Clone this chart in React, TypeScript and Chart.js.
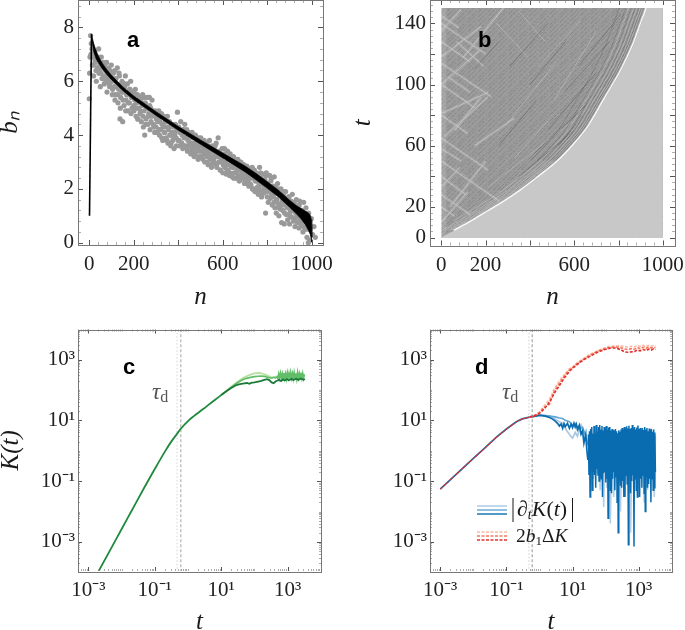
import React, { useEffect, useRef } from "react";
import { Chart, registerables } from "chart.js";

Chart.register(...registerables);

const SERIF = "'Liberation Serif', serif";
const SANS = "'Liberation Sans', sans-serif";

// ---------- panel a ----------
const grayStep = 3;
const grayB0 = [5.35,6.9,7.7,7.4,7.2,7.0,6.6,6.9,7.1,6.7,6.4,6.8,6.5,6.9,7.2,6.4,6.6,6.3,6.9,6.1,6.5,6.7,6.2,6.6,6.4,6.0,6.7,6.3,6.1,6.5,5.9,6.4,6.2];
const grayB1 = [6.6,6.0,5.7,6.3,5.8,6.4,5.5,6.1,5.9,6.5,5.2,5.7,6.2,4.6,5.4,5.9,6.0,4.5,5.6,5.1,5.8,6.2,5.3,5.5,5.9,4.9,5.6,5.2,5.7,6.0,5.4,5.0,5.5];
const grayB2 = [5.6,4.9,5.3,5.7,4.7,5.2,5.5,4.6,5.0,5.4,4.8,5.3,4.5,5.1,5.5,4.3,4.9,4.0,5.2,4.6,5.0,5.4,4.4,4.8,5.4,4.2,5.0,4.7,5.3,4.9,4.4,4.8,4.1];
const grayB3 = [4.9,4.3,4.7,4.1,4.6,4.9,4.0,4.5,4.2,4.8,4.4,3.8,4.3,4.7,4.1,4.5,3.9,4.3,4.7,3.7,4.2,4.5,4.0,3.6,4.4,4.1,3.8,4.3,3.5,4.0,4.4,3.9,4.2];
const grayB4 = [4.85,3.8,4.3,3.6,4.1,4.5,3.7,4.0,3.5,4.2,3.9,4.4,3.6,3.9,4.2,3.4,3.8,4.1,3.6,4.0,3.3,3.7,4.1,3.5,3.9,3.2,3.7,4.0,3.4,3.8,3.6,3.1,3.9];
const grayB5 = [3.4,3.7,3.9,3.2,3.6,3.1,3.5,3.8,3.0,3.4,3.7,3.2,3.5,2.9,3.3,3.8,3.1,3.4,2.8,3.6,3.2,3.0,3.5,2.95,3.3,3.7,2.8,3.2,3.9,3.0,3.4,2.7,3.3];
const grayB6 = [3.1,3.5,2.6,3.0,3.3,2.8,3.2,2.55,2.9,3.4,2.7,3.1,2.5,3.3,2.85,3.0,2.45,2.8,3.2,2.6,2.9,3.1,2.4,2.75,3.0,2.5,2.9,2.3,2.7,3.0,2.45,2.8,2.6];
const grayB7 = [2.9,2.35,2.7,2.2,2.5,2.85,2.3,2.6,2.1,2.75,2.4,2.15,2.55,2.8,2.0,2.4,2.7,1.9,2.3,2.6,2.05,2.5,1.8,2.2,2.8,1.95,2.4,1.7,2.2,2.55,1.85,2.1,2.35];
const grayB8 = [1.1,2.6,1.9,2.2,1.5,2.0,2.5,1.65,2.3,1.8,1.4,2.1,1.7,2.45,1.3,1.9,1.1,1.6,2.2,1.45,1.0,1.8,1.25,2.0,0.75,1.55,1.2,1.75,0.7,1.4,1.9,1.05,1.6];
const grayB9 = [0.85,1.3,1.7,0.7,1.15,1.55,0.95,1.8,1.25,0.8,1.45,0.6,1.1,1.6,1.0,0.75,1.35,0.55,1.55,0.9,1.2,0.65,1.05,0.4,1.5,0.8,1.1,0.5,0.9,0.2,0.7,0.0,0.5,0.1];
const grayB = [...grayB0,...grayB1,...grayB2,...grayB3,...grayB4,...grayB5,...grayB6,...grayB7,...grayB8,...grayB9];
const grayExtraStep = 6;
const grayExtraB = [
  6.3,7.0,6.6,6.2,6.8,6.0,6.5,6.3,5.8,6.6,6.1,5.9,6.4,5.6,6.2,5.8,6.0,
  5.5,6.1,5.3,5.8,5.5,6.3,5.0,5.6,5.3,5.9,4.9,5.5,5.2,5.7,4.8,5.4,5.1,
  5.5,5.0,4.6,5.3,4.9,5.2,4.7,5.4,4.4,5.0,4.7,5.1,4.5,4.9,4.3,4.7,4.6,
  4.5,4.2,4.7,3.9,4.4,4.1,4.6,3.8,4.3,4.0,3.7,4.4,3.9,4.1,3.6,4.2,3.8,
  4.1,3.7,4.2,3.6,3.9,3.5,4.0,3.7,3.4,3.9,3.6,3.3,3.8,3.5,3.2,3.6,3.4,
  3.7,3.3,3.5,3.0,3.6,3.2,2.9,3.4,3.1,3.6,2.9,3.3,3.0,2.7,3.2,2.9,3.5,
  3.0,2.7,3.2,2.6,3.0,2.8,2.4,2.9,2.6,3.1,2.3,2.7,2.5,2.9,2.2,2.6,2.4,
  2.6,2.2,2.5,2.0,2.7,2.3,1.9,2.4,2.1,2.6,1.8,2.2,2.0,2.5,1.7,2.1,1.9,
  2.4,1.8,1.5,2.1,1.6,2.0,1.3,1.8,1.4,1.9,1.1,1.6,1.3,1.7,1.0,1.4,1.2,
  1.5,0.9,1.3,1.0,1.4,0.8,1.2,0.6,1.0,1.3,0.7,1.1,0.5,0.9,0.3,0.6,0.2,
];

const bandN = [10,14,20,30,40,60,80,100,150,200,300,400,500,600,700,750,800,850,900,930,950,970,985,993,998,1000];
const bandUp = [7.75,7.6,7.4,7.15,6.95,6.65,6.42,6.22,5.8,5.45,4.87,4.32,3.82,3.33,2.85,2.57,2.27,1.95,1.58,1.38,1.28,1.18,1.1,1.02,0.85,0.2];
const bandLo = [7.65,7.4,7.1,6.85,6.7,6.45,6.24,6.06,5.66,5.31,4.73,4.18,3.66,3.15,2.63,2.33,2.02,1.7,1.32,1.08,0.9,0.68,0.45,0.3,0.12,0.02];
const riseN = [1,10];
const riseB = [1,7.75];

// ---------- panel b ----------
const edgeN = [0,60,136,210,286,360,437,527,600,662,739,815,867,905,928,1000];
const edgeT = [0,4.7,10.8,17.2,23.8,31,39.5,50,61,72,91,110,126,141,150,150];
const fieldN = [0,1000];
const fieldT = [150,150];
const glowN = [0,22];
const glowT = [150,150];
const riseIntercepts = [-139,-136,-131,-129,-125,-120,-118,-113,-110,-107,-102,-99,-97,-92,-88,-86,-81,-78,-74,-71,-68,-64,-60,-58,-54,-50,-47,-44,-41,-37,-34,-31,-28,-24,-22,-18,-15,-12,-8,-6,-3,0,3,5,9,12,14,18,21,24,26,30,33,35,39,42,45,48,50,54,57,60,63,66,68,72,75,78,80,84,87,90,93,95,99,102,105,107,111,114,117,120,123,125,129,132,135,138,141,144,147];
const fallIntercepts = [4,8,13,16,20,25,28,33,36,41,44,49,52,56,61,64,68,73,76,81,84,88,93,96,100,105,108,113,116,120,125,128,133,136,140,145,148,152,156,161,164,168,173,176,181,184,188,192,196,201,204,208,213,216,220,225,228,233,236,240,245,248,252,257,260,265,268,272];
const lightRaysLeft = [
  [0,114,226,92],[0,65,212,44],[0,50,260,24],[0,28,130,15],[0,100,150,85],[0,80,120,68],[0,128,130,115],[0,140,200,120],[0,145,80,137],[0,40,110,28],
  [0,81,212,95],[15,66,210,92],[0,118,180,138],[0,135,90,149],[0,100,170,122],[40,20,200,50],[0,10,120,30],[100,118,280,150],
  [150,60,330,78],[0,58,90,50],[30,105,130,95],[0,20,60,14],[0,33,85,46],[60,70,180,92],[70,128,190,112],
];
const lightRaysRight = [
  [212,33,590,76],[300,75,520,115],[510,90,700,135],[250,140,390,118],[350,148,470,128],[440,112,630,142],[330,52,480,76],
];
const darkRays = [
  [350,40,600,70],[420,55,650,86],[480,70,700,108],[560,96,760,128],[620,112,810,146],[260,60,430,90],[310,112,480,140],[530,60,640,80],[150,110,260,128],[400,100,560,128],
];
const darkArcOffsets = [14,24,36,52,70,95,125];
const lightArcOffsets = [10,20,30,45,60,82];

// ---------- panel c ----------
const kSharedT = [0.001,0.002,0.005,0.01,0.02,0.05,0.1,0.2,0.3,0.45,0.6,1,1.5,2,3,3.8,5,7.6,10];
const kSharedK = [2.6e-5,1.04e-4,6.5e-4,2.6e-3,0.0104,0.065,0.25,0.92,1.85,3.4,5.2,9.5,13.8,17.5,24.5,30,38,54,68];
const kDarkT = [10,15,20,24,30,40,50,60,70,80,100,130,160,200,240,280,330,380,430,500,560,630,720,820,950,1100,1300,1500,1800,2100,2500,3000,3300];
const kDarkK = [68,94,116,130,148,158,165,170,160,172,178,190,200,215,228,212,178,168,190,205,215,195,222,205,228,210,232,212,235,215,238,218,230];
const kMidT = [10,15,20,30,40,50,70,100,130,155,200,250,300,340,380,430,480,510,540,575,610,650,690,730,770,820,870,920,980,1040,1100,1170,1240,1320,1400,1480,1570,1670,1770,1880,1990,2110,2240,2380,2520,2680,2840,3010,3200];
const kMidK = [68,96,122,170,205,230,255,275,285,290,280,262,248,250,262,245,270,240,340,240,360,250,345,235,365,245,340,230,370,250,350,235,375,245,345,235,370,240,355,230,380,250,345,235,375,245,350,240,330];
const kLightT = [10,15,20,30,40,50,70,100,130,155,200,260,320,400,500,620,760,930,1130,1380,1700,2080,2550,3200];
const kLightK = [68,98,128,180,225,260,310,350,365,360,330,290,262,265,285,275,300,280,310,285,315,290,305,295];
const tauC = [0.61,0.47];

// ---------- panel d ----------
const dSharedT = [0.001,0.002,0.005,0.01,0.02,0.05,0.1,0.2,0.3,0.5];
const dSharedV = [0.055,0.11,0.28,0.56,1.1,2.8,5.2,9,11.2,12.8];
const blueDarkT = [0.5,0.7,1,1.5,2,2.5,3,3.5,4,4.5,5,5.5,6,7,8,9,10,11,12,13,14,16,18,20,22,25,27,29];
const blueDarkV = [12.8,13.6,14.5,13.8,12.5,11,9.5,8,6.5,7.6,5.5,7.8,6.2,8,5.5,7.5,5.8,8,6,7.5,5,7,3.5,4.5,1.8,3.5,1,0.5];
const blueMidT = [0.5,1,2,3,4,5,6,8,10,12,15,20,25,29];
const blueMidV = [13,15,14,13,12,11.5,10,9,7,8,5,6,3,1.5];
const blueLightT = [0.5,1,2,3,4,5,6,7,8,9,10,12,14,16,18,20,25,29];
const blueLightV = [13,15,14,11,9,8,5.5,4.2,3.5,2.9,2.6,4,3,5,7,5,3,1.8];
const bandT = [30,31.2,32.4,33.7,35.1,36.5,38,39.5,41,42.7,44.4,46.2,48,50,52,54,56,58.5,61,63,66,68,71,74,77,80,83,87,90,94,97,101,105,109,114,118,123,128,133,138,144,150,156,162,168,175,182,189,197,205,213,221,230,239,249,259,269,280,291,303,315,328,341,354,368,383,398,414,431,448,466,485,504,524,545,567,590,613,638,663,690,717,746,776,807,839,873,908,944,982,1021,1062,1104,1149,1195,1242,1292,1344,1397,1453,1511,1572,1635,1700,1768,1839,1912,1989,2068,2151,2237,2327,2420,2516,2617,2722,2831,2944,3062,3185];
const bandV = [3.4,0.16,4.4,0.03,5.2,0.32,6,0.05,3.6,0.2,6.5,0.16,3.4,0.06,7,0.25,4.2,0.15,6,0.1,7,0.14,5,0.12,6.5,0.03,4.6,0.18,6,0.2,5.4,0.09,6.5,0.12,4.8,0.006,5.8,0.1,6,0.05,4.6,0.04,5.2,0.12,4.8,0.2,4.4,0.05,5.2,0.14,4.4,0.02,3.8,0.002,4.6,0.11,4.2,0.07,5,0.06,5.6,0.1,4.8,0.03,6,0.03,5.2,0.16,6.4,0.08,5.4,0.0008,6.6,0.2,5.2,0.04,5.6,0.1,7,0.16,5.4,0.0007,6,0.12,5,0.05,5.8,0.03,6.8,0.2,5.2,0.03,5.6,0.12,4.8,0.06,5.6,0.16,4.8,0.04,6,0.01,5,0.14,5.6,0.06,4.4,0.08,5.4,0.12,4.8,0.02,5.2,0.12,4.2,0.05,5,0.06,4,0.2,4.4,0.12];
const lightBandT = [30,34,38,43,48,54,61,68,77,87,97,109,123,138,156,175,197,221,249,280,315,354,398,448,504,567,638,717,807,908,1021,1149,1292,1453,1635,1839,2068,2327,2617,2944,3185];
const lightBandV = [2.5,0.3,4,0.12,4.4,0.18,5.2,0.05,5,0.014,4.5,0.06,3.6,0.004,4,0.03,3.2,0.08,4.8,0.01,5.3,0.03,5.5,0.08,4.2,0.002,5,0.06,4.4,0.04,4.6,0.18,4.2,0.02,3.8,0.05,3.8,0.16,3.1,0.03,3.2];
const redCoreT = [0.5,0.7,1,1.4,2,2.8,4,5.6,8,10,14,22,32,56,100,140,200,280,370,470,600,740,900,1100,1350,1650,2000,2400,2800,3200];
const redDarkV = [12.8,14,17,24,40,78,140,250,410,520,700,1000,1250,1750,2200,2400,2400,2150,1800,1750,1800,1850,2050,1950,2150,2000,2200,2050,2250,2150];
const redMidV = [12.8,14.2,18,27,34,92,165,285,460,540,760,1050,1350,1850,2350,2550,2600,2500,2250,2150,2300,2200,2450,2300,2550,2350,2600,2400,2550,2450];
const redLightV = [12.8,14.6,19,30,50,110,200,320,500,570,800,1100,1450,1950,2500,2750,2800,2850,2650,2600,2750,2600,2850,2700,2950,2700,2950,2750,2900,2800];
const tauD = [0.6,0.48];

// ---------- ticks ----------
const logMinorFactors = [2,3,4,5,6,7,8,9];
const logDecades = [-4,-3,-2,-1,0,1,2,3];
const logLabelled = [1e-3,1e-1,1e1,1e3];
const logSmallMajor = [1e-2,1,1e2];
const logSup: Record<string,string> = { "0.001":"10⁻³", "0.1":"10⁻¹", "10":"10¹", "1000":"10³" };
const nLabelled = [0,200,600,1000];
const nMajor = [0,200,400,600,800,1000];
const nMinor = [40,80,120,160,240,280,320,360,440,480,520,560,640,680,720,760,840,880,920,960];
const bMajor = [0,2,4,6,8];
const bMinor = [0.4,0.8,1.2,1.6,2.4,2.8,3.2,3.6,4.4,4.8,5.2,5.6,6.4,6.8,7.2,7.6,8.4,8.8];
const tLabelled = [0,20,60,100,140];
const tMajor = [0,20,40,60,80,100,120,140];
const tMinor = [4,8,12,16,24,28,32,36,44,48,52,56,64,68,72,76,84,88,92,96,104,108,112,116,124,128,132,136,144,148,152];

const logMinor: number[] = [];
logDecades.forEach((d) => logMinorFactors.forEach((f) => logMinor.push(f * Math.pow(10, d))));

const xy = (xs: number[], ys: number[]) => xs.map((x, i) => ({ x, y: ys[i] }));
const seg = (list: number[][]) => {
  const out: any[] = [];
  list.forEach(([a, b, c, d]) => { out.push({ x: a, y: b }, { x: c, y: d }, { x: c, y: null }); });
  return out;
};
const hatch = (ints: number[], slope: number) => {
  const out: any[] = [];
  ints.forEach((t0) => {
    const s = slope > 0 ? Math.max(0, -t0 / slope) : Math.max(0, (150 - t0) / slope);
    const e = slope > 0 ? Math.min(1000, (150 - t0) / slope) : Math.min(1000, -t0 / slope);
    out.push({ x: s, y: t0 + slope * s }, { x: e, y: t0 + slope * e }, { x: e, y: null });
  });
  return out;
};
const arc = (off: number, tMin: number) => {
  const out: any[] = [];
  edgeN.forEach((n, i) => { if (n - off >= 0 && i < edgeN.length - 1 && edgeT[i] >= tMin) out.push({ x: n - off, y: edgeT[i] }); });
  return out;
};

const line = (data: any[], color: string, width: number, order: number, extra: any = {}) => ({
  type: "line", data, borderColor: color, borderWidth: width, pointRadius: 0, tension: 0, order, spanGaps: false, ...extra,
});
const smooth = { cubicInterpolationMode: "monotone" };

type Txt = { runs: { t: string; font: string; dy?: number }[]; x: number; y: number; color?: string };
const drawRuns = (ctx: CanvasRenderingContext2D, r: Txt) => {
  let x = r.x;
  ctx.fillStyle = r.color || "#1a1a1a";
  ctx.textBaseline = "alphabetic";
  ctx.textAlign = "left";
  r.runs.forEach((u) => {
    ctx.font = u.font;
    ctx.fillText(u.t, x, r.y + (u.dy || 0));
    x += ctx.measureText(u.t).width;
  });
};

const framePlugin = (s: any, dy: number) => ({
  id: "frameTicks",
  afterDatasetsDraw(chart: any) {
    const { ctx, chartArea: a, scales } = chart;
    const xs = scales.x, ys = scales.y;
    ctx.save();
    const mark = (vals: number[], len: number, col: string, w: number, horiz: boolean) => {
      ctx.strokeStyle = col; ctx.lineWidth = w; ctx.beginPath();
      vals.forEach((v) => {
        if (horiz) {
          const p = Math.round(xs.getPixelForValue(v)) + 0.5;
          if (p < a.left || p > a.right) return;
          ctx.moveTo(p, a.bottom); ctx.lineTo(p, a.bottom - len);
          ctx.moveTo(p, a.top); ctx.lineTo(p, a.top + len);
        } else {
          const p = Math.round(ys.getPixelForValue(v)) + 0.5;
          if (p < a.top || p > a.bottom) return;
          ctx.moveTo(a.left, p); ctx.lineTo(a.left + len, p);
          ctx.moveTo(a.right, p); ctx.lineTo(a.right - len, p);
        }
      });
      ctx.stroke();
    };
    mark(s.xMinor, s.minorLen, "#999", 0.8, true);
    mark(s.yMinor, s.minorLen, "#999", 0.8, false);
    mark(s.xMajor, s.majorLen, "#555", 1, true);
    mark(s.yMajor, s.majorLen, "#555", 1, false);
    ctx.strokeStyle = "#777"; ctx.lineWidth = 1;
    ctx.strokeRect(Math.round(a.left) + 0.5, Math.round(a.top) + 0.5, Math.round(a.right - a.left), Math.round(a.bottom - a.top));
    ctx.restore();
  },
  afterDraw(chart: any) {
    const { ctx } = chart;
    ctx.save();
    ctx.translate(0, dy);
    (s.texts || []).forEach((t: Txt) => drawRuns(ctx, t));
    if (s.extra) s.extra(ctx);
    ctx.restore();
  },
});

const legendStrokes = (ctx: CanvasRenderingContext2D) => {
  const rows = [
    [506, "#aac8e2", []], [510, "#5ea5d6", []], [514, "#0a6cb0", []],
    [532, "#fbb9a2", [3, 1.5]], [536, "#f4775e", [3, 1.5]], [540, "#e2322d", [3, 1.5]],
  ] as [number, string, number[]][];
  rows.forEach(([y, c, d]) => {
    ctx.strokeStyle = c; ctx.lineWidth = 1.4; ctx.setLineDash(d);
    ctx.beginPath(); ctx.moveTo(135, y - 315); ctx.lineTo(165, y - 315); ctx.stroke();
  });
  ctx.setLineDash([]);
  ctx.strokeStyle = "#1a1a1a"; ctx.lineWidth = 1;
  [170.5, 230].forEach((x) => { ctx.beginPath(); ctx.moveTo(x + 0.5, 183); ctx.lineTo(x + 0.5, 207); ctx.stroke(); });
};

function makeScale(kind: string, axis: string, min: number, max: number, labelled: number[], cb: (v: number) => string, fitSize: number, title: any, size: number, pad: number) {
  return {
    type: kind, min, max,
    grid: { display: false, drawTicks: false }, border: { display: false },
    afterBuildTicks: (sc: any) => { sc.ticks = labelled.map((value) => ({ value })); },
    afterFit: (sc: any) => {
      if (axis === "x") sc.height = fitSize; else sc.width = fitSize;
      sc.paddingTop = sc.paddingBottom = sc.paddingLeft = sc.paddingRight = 0;
    },
    ticks: { autoSkip: false, maxRotation: 0, minRotation: 0, padding: pad, color: "#222", font: { family: SERIF, size }, callback: (v: any) => cb(Number(v)) },
    title,
  };
}

const axisTitle = (text: string, size: number, top: number, bottom: number) => ({
  display: true, text, color: "#1a1a1a", font: { family: SERIF, style: "italic", size }, padding: { top, bottom },
});

const numCb = (v: number) => String(v);
const logCb = (v: number) => logSup[String(v)] || "";

const W = [342, 343];
const H = 315;

const panels: any[] = [
  {
    left: 0, top: 0, w: W[0], dy: 10, plot: { l: 78, r: 323, t: 0, b: 245 },
    config: () => ({
      datasets: [
        line(xy(riseN, riseB), "#000", 1.6, 1),
        line(xy(bandN, bandUp), "#000", 0.6, 2, { fill: "+1", backgroundColor: "#000" }),
        line(xy(bandN, bandLo), "#000", 0.6, 3),
        { type: "scatter", data: grayB.map((y, i) => ({ x: i * grayStep, y })), pointRadius: 2.6, pointBorderWidth: 0, backgroundColor: "#999999", order: 4 },
        { type: "scatter", data: grayExtraB.map((y, i) => ({ x: 1.5 + i * grayExtraStep, y })), pointRadius: 2.6, pointBorderWidth: 0, backgroundColor: "#999999", order: 5 },
      ],
      x: makeScale("linear", "x", -50.7, 1050, nLabelled, numCb, 70, axisTitle("n", 25, 0, 3), 21, 7),
      y: makeScale("linear", "y", -0.085, 9.02, bMajor, numCb, 78, axisTitle("bₙ", 25, -5, 0), 21, 4),
      frame: { xMajor: nMajor, xMinor: nMinor, yMajor: bMajor, yMinor: bMinor, majorLen: 5, minorLen: 3,
        texts: [{ runs: [{ t: "a", font: `bold 22px ${SANS}` }], x: 127, y: 47, color: "#000" }] },
    }),
  },
  {
    left: 342, top: 0, w: W[1], dy: 10, plot: { l: 88, r: 333, t: 0, b: 245.5 },
    config: () => ({
      datasets: [
        line(arc(4, 0), "rgba(255,255,255,0.95)", 1.4, 1, smooth),
        line(xy(edgeN, edgeT), "rgba(0,0,0,0)", 0, 2, { fill: "origin", backgroundColor: "#c8c8c8", ...smooth }),
        ...darkArcOffsets.map((o) => line(arc(o, 45), "rgba(50,50,50,0.3)", 0.7, 3, smooth)),
        ...lightArcOffsets.map((o) => line(arc(o, 0), "rgba(235,235,235,0.33)", 0.9, 3, smooth)),
        line(seg(darkRays), "rgba(45,45,45,0.35)", 0.8, 4),
        line(seg(lightRaysRight), "rgba(245,245,245,0.25)", 1, 5),
        line(seg(lightRaysLeft), "rgba(250,250,250,0.3)", 1, 5),
        line(seg(lightRaysLeft), "rgba(245,245,245,0.13)", 3, 5),
        line(xy(glowN, glowT), "rgba(0,0,0,0)", 0, 6, { fill: "origin", backgroundColor: "rgba(255,255,255,0.12)" }),
        line(hatch(riseIntercepts, 0.145), "rgba(60,60,60,0.38)", 0.6, 7, { borderDash: [3, 1.5, 1.5, 2.5, 5, 1] }),
        line(hatch(fallIntercepts, -0.145), "rgba(215,215,215,0.24)", 0.7, 8, { borderDash: [4, 2, 1, 3] }),
        line(xy(fieldN, fieldT), "rgba(0,0,0,0)", 0, 9, { fill: "origin", backgroundColor: "#9a9a9a" }),
      ],
      x: makeScale("linear", "x", -50.9, 1055, nLabelled, numCb, 69.5, axisTitle("n", 25, 0, 3), 21, 7),
      y: makeScale("linear", "y", -5.2, 155.3, tLabelled, numCb, 88, axisTitle("t", 25, 6, 0), 21, 4),
      frame: { xMajor: nMajor, xMinor: nMinor, yMajor: tMajor, yMinor: tMinor, majorLen: 5, minorLen: 3,
        texts: [{ runs: [{ t: "b", font: `bold 22px ${SANS}` }], x: 136, y: 47, color: "#000" }] },
    }),
  },
  {
    left: 0, top: 315, w: W[0], dy: 0, plot: { l: 78, r: 321, t: 14.5, b: 256 },
    config: () => ({
      datasets: [
        line(xy(kSharedT, kSharedK), "#1f8a3d", 1.8, 1, smooth),
        line(xy(kDarkT, kDarkK), "#1a7a38", 1.8, 2),
        line(xy(kMidT, kMidK), "#62bd68", 1.6, 3),
        line(xy(kLightT, kLightK), "#b5e2a0", 1.8, 4),
        line([{ x: tauC[0], y: 1e-4 }, { x: tauC[0], y: 1e4 }], "#9a9a9a", 0.9, 5, { borderDash: [3, 2] }),
        line([{ x: tauC[1], y: 1e-4 }, { x: tauC[1], y: 1e4 }], "#d0d0d0", 0.9, 6, { borderDash: [1.5, 2] }),
      ],
      x: makeScale("logarithmic", "x", Math.pow(10, -3.31), 1.01e4, logLabelled, logCb, 59, axisTitle("t", 25, 0, -7), 21, 7),
      y: makeScale("logarithmic", "y", 1.1e-4, 0.98e4, logLabelled, logCb, 78, axisTitle("K(t)", 25, -4, 0), 21, 3),
      frame: { xMajor: logLabelled, xMinor: [...logMinor, ...logSmallMajor], yMajor: logLabelled, yMinor: [...logMinor, ...logSmallMajor], majorLen: 4, minorLen: 2,
        texts: [
          { runs: [{ t: "c", font: `bold 22px ${SANS}` }], x: 123, y: 59, color: "#000" },
          { runs: [{ t: "τ", font: `italic 23px ${SERIF}` }, { t: "d", font: `16px ${SERIF}`, dy: 3 }], x: 152, y: 84, color: "#555" },
        ] },
    }),
  },
  {
    left: 342, top: 315, w: W[1], dy: 0, plot: { l: 88, r: 330, t: 14.5, b: 256 },
    config: () => ({
      datasets: [
        line(xy(dSharedT, dSharedV), "#e2322d", 1.2, 1, { borderDash: [3, 1] }),
        line(xy(redCoreT, redDarkV), "#e2322d", 1.6, 2, { borderDash: [3, 1.5] }),
        line(xy(redCoreT, redMidV), "#f4775e", 1.6, 3, { borderDash: [3, 1.5] }),
        line(xy(redCoreT, redLightV), "#fbb9a2", 1.6, 4, { borderDash: [3, 1.5] }),
        line(xy(bandT, bandV), "#0a6cb0", 1.5, 5),
        line(xy(blueDarkT, blueDarkV), "#0a6cb0", 1.7, 6),
        line(xy(dSharedT, dSharedV), "#0a6cb0", 1.7, 7),
        line(xy(blueMidT, blueMidV), "#5ea5d6", 1.6, 8),
        line(xy(blueLightT, blueLightV), "#aac8e2", 1.7, 9),
        line(xy(lightBandT, lightBandV), "#b6cfe6", 1.6, 10),
        line([{ x: tauD[0], y: 1e-4 }, { x: tauD[0], y: 1e4 }], "#8a8a8a", 0.9, 11, { borderDash: [3, 2] }),
        line([{ x: tauD[1], y: 1e-4 }, { x: tauD[1], y: 1e4 }], "#c8c8c8", 0.9, 12, { borderDash: [1.5, 2] }),
      ],
      x: makeScale("logarithmic", "x", Math.pow(10, -3.31), 1.01e4, logLabelled, logCb, 59, axisTitle("t", 25, 0, -7), 21, 7),
      y: makeScale("logarithmic", "y", 1.1e-4, 0.98e4, logLabelled, logCb, 88, { display: false }, 21, 3),
      frame: { xMajor: logLabelled, xMinor: [...logMinor, ...logSmallMajor], yMajor: logLabelled, yMinor: [...logMinor, ...logSmallMajor], majorLen: 4, minorLen: 2,
        texts: [
          { runs: [{ t: "d", font: `bold 22px ${SANS}` }], x: 133, y: 59, color: "#000" },
          { runs: [{ t: "τ", font: `italic 23px ${SERIF}` }, { t: "d", font: `16px ${SERIF}`, dy: 3 }], x: 160, y: 84, color: "#555" },
          { runs: [{ t: "∂", font: `italic 22px ${SERIF}` }, { t: "t", font: `italic 14px ${SERIF}`, dy: 3 }, { t: "K", font: `italic 22px ${SERIF}` }, { t: "(", font: `22px ${SERIF}` }, { t: "t", font: `italic 22px ${SERIF}` }, { t: ")", font: `22px ${SERIF}` }], x: 175, y: 201 },
          { runs: [{ t: "2", font: `19.5px ${SERIF}` }, { t: "b", font: `italic 19.5px ${SERIF}` }, { t: "1", font: `13px ${SERIF}`, dy: 3 }, { t: "Δ", font: `19.5px ${SERIF}` }, { t: "K", font: `italic 19.5px ${SERIF}` }], x: 174, y: 227 },
        ],
        extra: legendStrokes },
    }),
  },
];

function Panel({ p }: { p: any }) {
  const ref = useRef<HTMLCanvasElement | null>(null);
  useEffect(() => {
    document.body.style.margin = "0";
    const c = p.config();
    const chart = new Chart(ref.current as HTMLCanvasElement, {
      data: { datasets: c.datasets },
      options: {
        responsive: false,
        animation: false,
        maintainAspectRatio: false,
        layout: { padding: { left: 0, right: p.w - p.plot.r, top: p.plot.t + p.dy, bottom: 0 } },
        plugins: { legend: { display: false }, tooltip: { enabled: false }, title: { display: false } },
        scales: { x: c.x, y: c.y },
      },
      plugins: [framePlugin(c.frame, p.dy)],
    } as any);
    return () => chart.destroy();
  }, [p]);
  return <canvas ref={ref} width={p.w} height={H + p.dy} style={{ position: "absolute", left: p.left, top: p.top - p.dy, width: p.w, height: H + p.dy }} />;
}

export default function App() {
  return (
    <div style={{ position: "absolute", left: 0, top: 0, width: 685, height: 630, background: "#fff", overflow: "hidden" }}>
      {panels.map((p, i) => <Panel key={i} p={p} />)}
    </div>
  );
}
